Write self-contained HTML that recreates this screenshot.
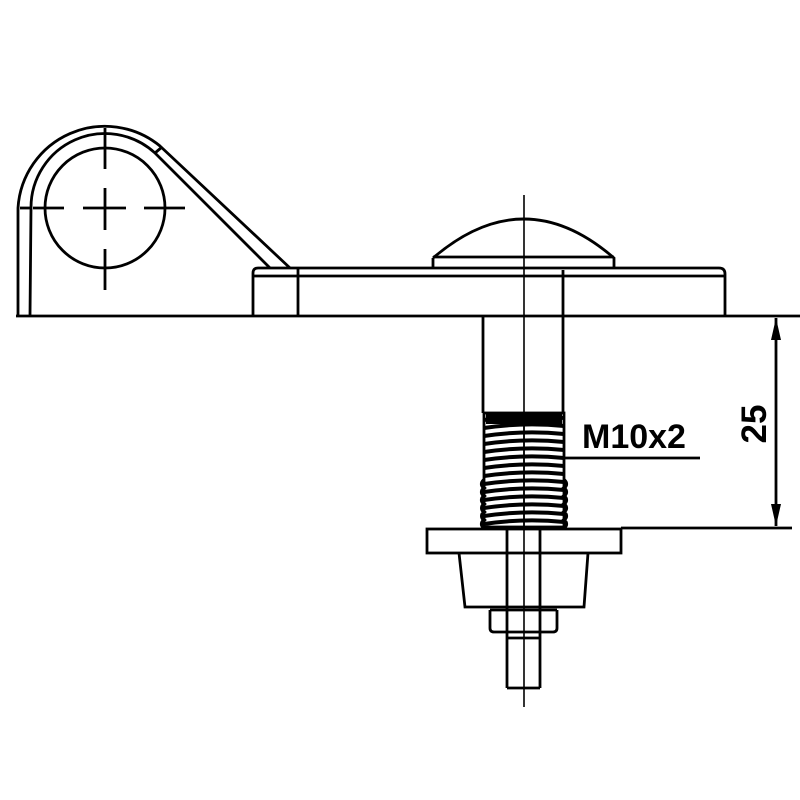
<!DOCTYPE html>
<html><head><style>body{margin:0;background:#fff}svg{display:block}</style></head><body>
<svg width="800" height="800" viewBox="0 0 800 800" xmlns="http://www.w3.org/2000/svg">
<g fill="none" stroke="#000" stroke-width="2.8">
<path d="M18 316 L18 208 A87 87 0 0 1 160 146 L290 268"/>
<path d="M30 316 L31 208 A74 74 0 0 1 155 153 L270 268"/>
<line x1="155" y1="153" x2="162" y2="147"/>
<line x1="20" y1="208" x2="31" y2="208"/>
<circle cx="105" cy="208" r="60"/>
<line x1="33" y1="208" x2="64" y2="208"/><line x1="83" y1="208" x2="126" y2="208"/><line x1="144" y1="208" x2="185" y2="208"/>
<line x1="105" y1="128" x2="105" y2="169"/><line x1="105" y1="188" x2="105" y2="230"/><line x1="105" y1="249" x2="105" y2="290"/>
<line x1="16" y1="316" x2="800" y2="316"/>
<path d="M253 316 L253 273 Q253 268 258 268 L719 268 Q725 268 725 274 L725 316"/>
<line x1="253" y1="276" x2="725" y2="276"/>
<line x1="298" y1="268" x2="298" y2="316"/>
<line x1="563" y1="270" x2="563" y2="316"/>
<path d="M433 258 Q524 180 614 258 L614 267 M433 258 L433 267"/>
<line x1="433" y1="257" x2="614" y2="257"/>
<line x1="483" y1="316" x2="483" y2="413"/>
<line x1="563" y1="316" x2="563" y2="413"/>
<line x1="565" y1="458" x2="700" y2="458"/>
<line x1="621" y1="528" x2="792" y2="528"/>
<line x1="776" y1="318" x2="776" y2="526"/>
<rect x="427" y="529" width="194" height="24"/>
<path d="M459 553 L465 607 L584 607 L588 553"/>
<path d="M490 610 L490 628 Q490 632 494 632 L553 632 Q557 632 557 628 L557 610"/>
<line x1="490" y1="610" x2="557" y2="610"/>
<line x1="507" y1="529" x2="507" y2="688"/>
<line x1="540" y1="529" x2="540" y2="688"/>
<line x1="507" y1="688" x2="540" y2="688"/>
<line x1="507" y1="638" x2="540" y2="638"/>
</g>
<line x1="524" y1="195" x2="524" y2="707" stroke="#000" stroke-width="1.6"/>
<path d="M776 318 L771 340 L781 340 Z M776 526 L771 504 L781 504 Z" fill="#000"/>
<g fill="none" stroke="#000" stroke-width="4">
<rect x="484" y="413" width="80" height="114" stroke-width="2.8"/>
<path d="M484 420 Q524 414 564 418 M484 428 Q524 422 564 426 M484 436 Q524 430 564 434 M484 444 Q524 438 564 442 M484 452 Q524 446 564 450 M484 460 Q524 454 564 458 M484 468 Q524 462 564 466 M484 476 Q524 470 564 474 M484 484 Q524 478 564 482 M484 492 Q524 486 564 490 M484 500 Q524 494 564 498 M484 508 Q524 502 564 506 M484 516 Q524 510 564 514 M484 524 Q524 518 564 522"/>
<path d="M484 480 q-4 4 0 8 q-4 4 0 8 q-4 4 0 8 q-4 4 0 8 q-4 4 0 8 q-4 4 0 8 M564 480 q4 4 0 8 q4 4 0 8 q4 4 0 8 q4 4 0 8 q4 4 0 8 q4 4 0 8"/>
</g>
<rect x="486" y="414" width="76" height="10" fill="#000"/>
<line x1="524" y1="413" x2="524" y2="527" stroke="#000" stroke-width="1.6"/>
<text x="582" y="448" font-family="Liberation Sans, sans-serif" font-weight="bold" font-size="34">M10x2</text>
<text transform="translate(766 424) rotate(-90)" text-anchor="middle" font-family="Liberation Sans, sans-serif" font-weight="bold" font-size="35">25</text>
</svg>
</body></html>
